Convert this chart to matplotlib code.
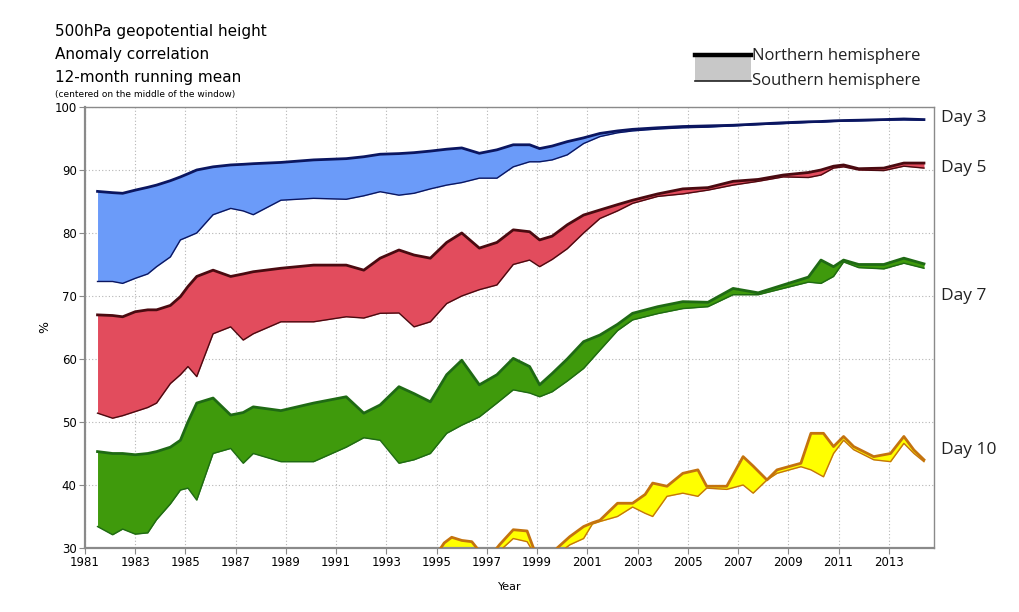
import matplotlib
matplotlib.use("Agg")
import matplotlib.pyplot as plt
import numpy as np

# shared time axis for Day 3 / 5 / 7 (years)
years = [1981.5, 1982.1, 1982.5, 1983.0, 1983.5, 1983.85, 1984.4, 1984.8, 1985.1, 1985.45,
         1986.1, 1986.8, 1987.3, 1987.7, 1988.8, 1990.1, 1991.4, 1992.1, 1992.75, 1993.5,
         1994.1, 1994.75, 1995.4, 1996.0, 1996.7, 1997.4, 1998.05, 1998.7, 1999.1, 1999.6,
         2000.2, 2000.85, 2001.5, 2002.2, 2002.8, 2003.8, 2004.8, 2005.8, 2006.8, 2007.8,
         2008.8, 2009.8, 2010.3, 2010.8, 2011.2, 2011.8, 2012.8, 2013.6, 2014.4]

day3_nh = [86.6, 86.4, 86.3, 86.8, 87.25, 87.6, 88.3, 88.9, 89.4, 90.0,
           90.5, 90.8, 90.9, 91.0, 91.2, 91.6, 91.8, 92.1, 92.5, 92.6,
           92.75, 93.0, 93.3, 93.5, 92.65, 93.2, 94.0, 94.0, 93.4, 93.8,
           94.5, 95.1, 95.8, 96.2, 96.45, 96.7, 96.9, 97.0, 97.1, 97.3,
           97.5, 97.65, 97.7, 97.8, 97.85, 97.9, 98.0, 98.1, 98.0]
day3_sh = [72.3, 72.3, 72.0, 72.8, 73.5, 74.65, 76.2, 78.9, 79.4, 80.0,
           82.9, 83.9, 83.5, 82.9, 85.2, 85.5, 85.35, 85.9, 86.55, 86.0,
           86.3, 87.0, 87.6, 88.0, 88.7, 88.7, 90.5, 91.3, 91.3, 91.6,
           92.4, 94.2, 95.3, 95.9, 96.2, 96.5, 96.7, 96.8, 97.0, 97.2,
           97.35, 97.55, 97.6, 97.7, 97.75, 97.8, 97.9, 97.95, 97.9]

day5_nh = [67.0, 66.9, 66.7, 67.5, 67.8, 67.8, 68.5, 69.9, 71.5, 73.1,
           74.1, 73.1, 73.5, 73.85, 74.4, 74.9, 74.9, 74.1, 76.0, 77.3,
           76.5, 76.0, 78.5, 80.0, 77.6, 78.5, 80.5, 80.2, 78.9, 79.5,
           81.3, 82.85, 83.65, 84.5, 85.2, 86.2, 87.0, 87.2, 88.2, 88.5,
           89.2, 89.6, 90.0, 90.6, 90.8, 90.2, 90.3, 91.1, 91.1]
day5_sh = [51.4, 50.6, 51.0, 51.65, 52.3, 53.0, 56.1, 57.5, 58.8, 57.2,
           64.0, 65.1, 63.0, 64.0, 65.9, 65.9, 66.7, 66.5, 67.25, 67.3,
           65.1, 65.9, 68.8, 70.0, 71.0, 71.75, 75.0, 75.7, 74.65, 75.8,
           77.5, 80.0, 82.3, 83.5, 84.7, 85.8, 86.2, 86.8, 87.6, 88.2,
           88.9, 88.8, 89.2, 90.3, 90.5, 90.0, 89.9, 90.6, 90.3]

day7_nh = [45.3, 45.0, 45.0, 44.8, 45.0, 45.3, 46.0, 47.1, 50.0, 53.0,
           53.8, 51.1, 51.5, 52.4, 51.8, 53.0, 54.0, 51.4, 52.7, 55.6,
           54.5, 53.2, 57.5, 59.8, 55.9, 57.5, 60.1, 58.8, 55.9, 57.7,
           60.0, 62.75, 63.8, 65.5, 67.25, 68.3, 69.1, 69.0, 71.2, 70.5,
           71.75, 73.0, 75.7, 74.65, 75.7, 75.0, 75.0, 76.0, 75.1]
day7_sh = [33.4, 32.1, 33.0, 32.2, 32.4, 34.5, 37.0, 39.2, 39.5, 37.6,
           45.0, 45.8, 43.45, 45.0, 43.7, 43.7, 46.0, 47.5, 47.1, 43.45,
           44.0, 45.0, 48.2, 49.5, 50.8, 53.0, 55.1, 54.6, 54.0, 54.8,
           56.5, 58.5, 61.4, 64.5, 66.2, 67.2, 68.0, 68.3, 70.2, 70.2,
           71.2, 72.2, 72.0, 73.1, 75.4, 74.5, 74.3, 75.2, 74.4]

# Day 10 has its own time axis (dips below the 30% floor early on)
years10 = [1995.0, 1995.3, 1995.6, 1996.0, 1996.4, 1996.7, 1997.2, 1997.5, 1998.05, 1998.6,
           1998.9, 1999.5, 1999.8, 2000.3, 2000.85, 2001.2, 2001.5, 2002.2, 2002.8, 2003.3,
           2003.6, 2004.17, 2004.8, 2005.4, 2005.75, 2006.55, 2007.2, 2007.6, 2008.15, 2008.55,
           2009.5, 2009.9, 2010.4, 2010.8, 2011.2, 2011.6, 2012.4, 2013.07, 2013.6, 2014.0,
           2014.4]
day10_nh = [29.0, 30.8, 31.7, 31.2, 31.0, 29.5, 29.0, 30.5, 32.9, 32.7,
            29.5, 28.5, 30.0, 31.8, 33.4, 34.0, 34.4, 37.1, 37.1, 38.5,
            40.3, 39.8, 41.85, 42.4, 39.8, 39.8, 44.5, 43.0, 40.8, 42.4,
            43.45, 48.2, 48.2, 46.1, 47.7, 46.1, 44.5, 45.0, 47.7, 45.55,
            44.0]
day10_sh = [28.0, 29.0, 29.5, 29.0, 29.0, 28.5, 28.0, 29.5, 31.5, 31.0,
            29.0, 28.0, 29.0, 30.5, 31.5, 33.8, 34.2, 35.0, 36.5, 35.5,
            35.0, 38.2, 38.7, 38.2, 39.5, 39.3, 40.0, 38.7, 40.8, 41.85,
            42.9, 42.4, 41.3, 45.0, 47.1, 45.6, 44.0, 43.7, 46.6, 45.0,
            43.7]

day_labels = ["Day 3", "Day 5", "Day 7", "Day 10"]

series = [
    (years, day3_nh, day3_sh, "#6b9bf9", "#0b1660"),
    (years, day5_nh, day5_sh, "#e24c5d", "#4a0a10"),
    (years, day7_nh, day7_sh, "#3f9a0c", "#1f6a14"),
    (years10, day10_nh, day10_sh, "#ffff00", "#c4730e"),
]
label_y = [98.2, 90.3, 70.0, 45.5]

fig = plt.figure(figsize=(10.2, 6.12), dpi=100)
ax = fig.add_axes([0.0833, 0.1046, 0.8324, 0.7206])

for x, nh, sh, fill_c, line_c in series:
    ax.fill_between(x, nh, sh, color=fill_c, linewidth=0, zorder=2)
    ax.plot(x, sh, color=line_c, linewidth=1.0, zorder=3)
    ax.plot(x, nh, color=line_c, linewidth=2.0, zorder=4)

ax.set_xlim(1981, 2014.8)
ax.set_ylim(30, 100)
ax.set_xticks(np.arange(1981, 2014, 2))
ax.set_yticks(np.arange(30, 101, 10))
ax.grid(True, color="#b5b5b5", linestyle=(0, (1, 2)), linewidth=0.8)
ax.set_axisbelow(True)
for side in ["left", "bottom", "top", "right"]:
    ax.spines[side].set_color("#8a8a8a")
ax.spines["left"].set_linewidth(1.6)
ax.spines["bottom"].set_linewidth(1.6)
ax.spines["top"].set_linewidth(1.0)
ax.spines["right"].set_linewidth(1.0)
ax.tick_params(axis="both", direction="out", length=4, color="#8a8a8a",
               labelsize=8.5, pad=2)
ax.set_xlabel("Year", fontsize=8, labelpad=9)
ax.set_ylabel("%", fontsize=9, labelpad=2)

for lab, ly in zip(day_labels, label_y):
    ax.text(1.008, ly, lab, transform=ax.get_yaxis_transform(), fontsize=12.5,
            va="center", ha="left", family="Open Sans", color="#222222")

# title block
fig.text(0.054, 0.948, "500hPa geopotential height", fontsize=11, va="center")
fig.text(0.054, 0.911, "Anomaly correlation", fontsize=11, va="center")
fig.text(0.054, 0.874, "12-month running mean", fontsize=11, va="center")
fig.text(0.054, 0.845, "(centered on the middle of the window)", fontsize=6.5, va="center")

# hemisphere key
fig.patches.append(plt.Rectangle((0.681, 0.868), 0.055, 0.042, transform=fig.transFigure,
                                 facecolor="#c8c8c8", edgecolor="none"))
fig.lines.append(plt.Line2D([0.681, 0.736], [0.910, 0.910], transform=fig.transFigure,
                            color="black", linewidth=3.2))
fig.lines.append(plt.Line2D([0.681, 0.736], [0.868, 0.868], transform=fig.transFigure,
                            color="#222222", linewidth=1.2))
fig.text(0.737, 0.909, "Northern hemisphere", fontsize=12, va="center", family="Open Sans",
         color="#222222")
fig.text(0.737, 0.867, "Southern hemisphere", fontsize=12, va="center", family="Open Sans",
         color="#222222")

fig.savefig("out.png", dpi=100)
